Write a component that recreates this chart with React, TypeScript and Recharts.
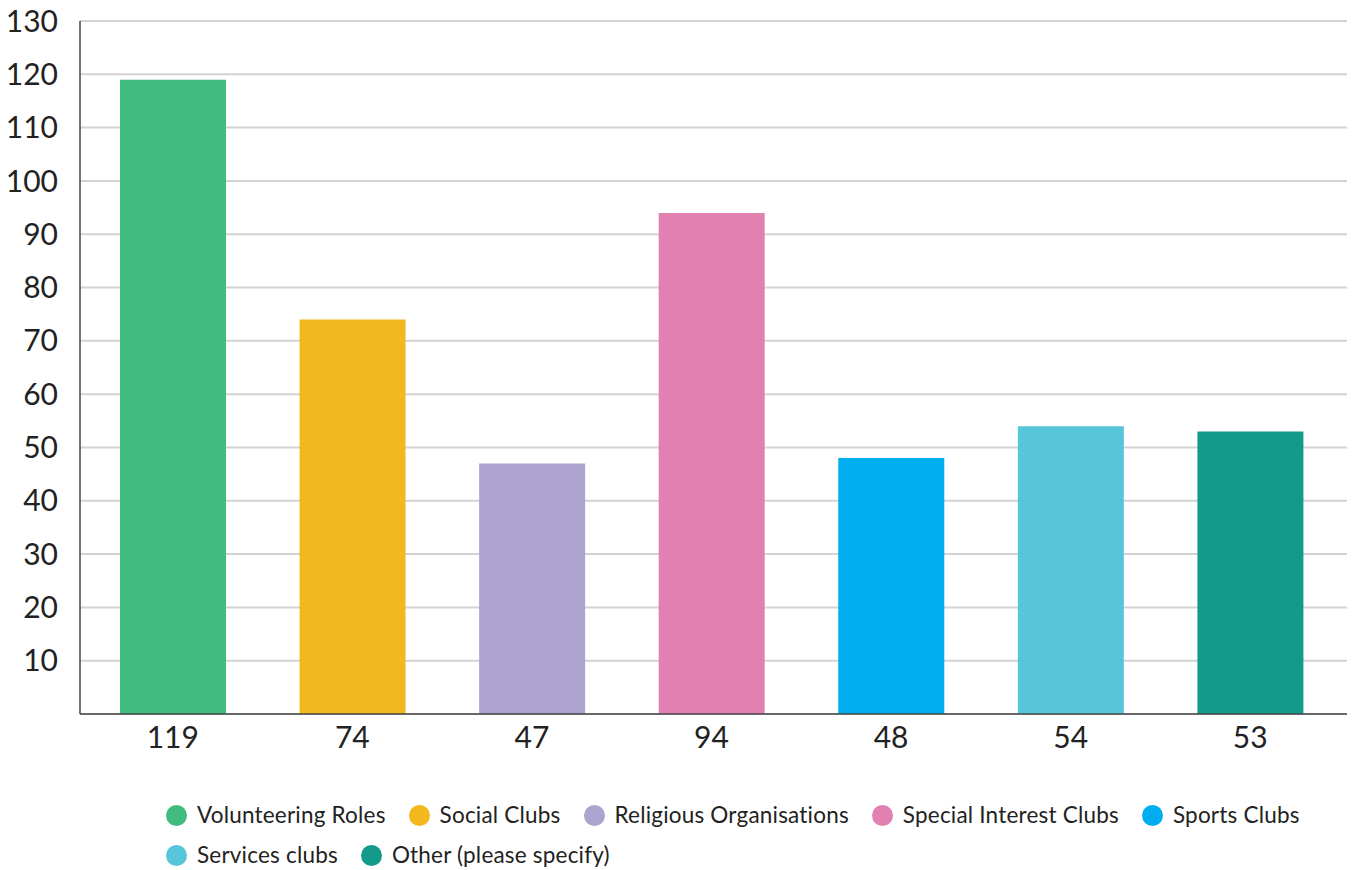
import { BarChart, Bar, XAxis, YAxis, CartesianGrid, Cell } from "recharts";

const CATEGORIES = [
  "Volunteering Roles",
  "Social Clubs",
  "Religious Organisations",
  "Special Interest Clubs",
  "Sports Clubs",
  "Services clubs",
  "Other (please specify)",
];
const COUNTS = [119, 74, 47, 94, 48, 54, 53];
const COLORS = ["#42bb7e", "#f2b81d", "#ada3cf", "#e180b1", "#00aeef", "#58c6da", "#149a8b"];
const Y_TICKS = [10, 20, 30, 40, 50, 60, 70, 80, 90, 100, 110, 120, 130];

// legend wraps after the fifth entry
const LEGEND_ROWS = [
  [0, 1, 2, 3, 4],
  [5, 6],
];

const FONT = "Lato, 'Open Sans', sans-serif";

const data = CATEGORIES.map((name, i) => ({ name, label: String(COUNTS[i]), value: COUNTS[i] }));

export default function App() {
  return (
    <div
      style={{
        position: "absolute",
        left: 0,
        top: 0,
        width: 1352,
        height: 870,
        background: "#fff",
        fontFamily: FONT,
        overflow: "hidden",
      }}
    >
      <BarChart
        width={1352}
        height={760}
        data={data}
        margin={{ top: 21, right: 5, bottom: 6, left: 0 }}
        barCategoryGap="20.6%"
      >
        <CartesianGrid vertical={false} stroke="#d3d3d3" strokeWidth={2} />
        <XAxis
          dataKey="label"
          height={40}
          padding={{ left: 3, right: 7 }}
          tickSize={0}
          tickMargin={13}
          axisLine={{ stroke: "#444", strokeWidth: 1.5 }}
          tick={{ fill: "#222", fontSize: 30, fontFamily: FONT }}
        />
        <YAxis
          width={80}
          domain={[0, 130]}
          ticks={Y_TICKS}
          interval={0}
          tickSize={0}
          tickMargin={22}
          axisLine={{ stroke: "#444", strokeWidth: 1.5 }}
          tick={{ fill: "#222", fontSize: 30, fontFamily: FONT }}
        />
        <Bar dataKey="value" isAnimationActive={false}>
          {data.map((d, i) => (
            <Cell key={d.name} fill={COLORS[i]} />
          ))}
        </Bar>
      </BarChart>

      <div style={{ position: "absolute", left: 166, top: 795 }}>
        {LEGEND_ROWS.map((row, r) => (
          <div key={r} style={{ display: "flex", alignItems: "center", gap: 23, height: 40 }}>
            {row.map((i) => (
              <div key={i} style={{ display: "flex", alignItems: "center", gap: 10 }}>
                <span
                  style={{
                    width: 21,
                    height: 21,
                    borderRadius: "50%",
                    background: COLORS[i],
                    display: "inline-block",
                  }}
                />
                <span style={{ fontSize: 22.5, letterSpacing: 0.2, color: "#222", lineHeight: "26px" }}>
                  {CATEGORIES[i]}
                </span>
              </div>
            ))}
          </div>
        ))}
      </div>
    </div>
  );
}
